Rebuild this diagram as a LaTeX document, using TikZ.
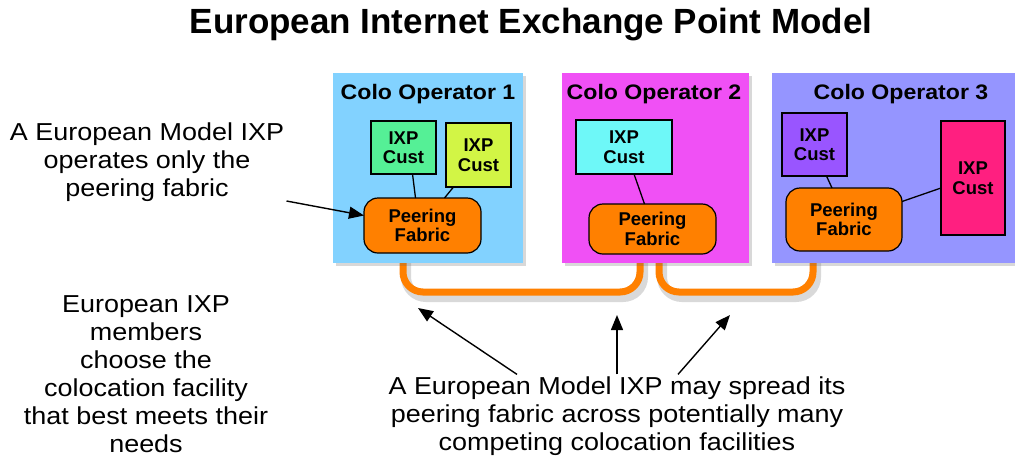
\documentclass[tikz,border=0pt]{standalone}
\usepackage{fontspec}
\setmainfont{Liberation Sans}
\usetikzlibrary{shadows,arrows.meta,backgrounds}
\definecolor{coloA}{HTML}{82D2FF}
\definecolor{coloB}{HTML}{F050F5}
\definecolor{coloC}{HTML}{9595FF}
\definecolor{custA}{HTML}{55F096}
\definecolor{custB}{HTML}{D2F545}
\definecolor{custC}{HTML}{6EF8F8}
\definecolor{custD}{HTML}{9955FF}
\definecolor{custE}{HTML}{FF1F80}
\definecolor{fabricorange}{HTML}{FF8000}
\tikzset{
  colobox/.style={rectangle, inner sep=0pt, outer sep=0pt, anchor=north west,
    drop shadow={shadow xshift=3pt, shadow yshift=-3pt, opacity=.25, fill=black!60}},
  colotitle/.style={font=\fontsize{21}{24}\selectfont\bfseries, xscale=1.1, transform shape, inner sep=0pt},
  custbox/.style={draw=black, line width=1.2pt, rectangle, inner sep=0pt, outer sep=0pt, anchor=north west,
    align=center, font=\fontsize{18.5}{19.5}\selectfont\bfseries},
  fabricbox/.style={custbox, fill=fabricorange, rounded corners=14pt},
  link/.style={draw=black, line width=1.3pt},
  busline/.style={draw=fabricorange, line width=7pt, rounded corners=20pt},
  busshadow/.style={draw=black, opacity=.15, line width=10pt, rounded corners=20pt},
  txt/.style={align=center, font=\fontsize{24.5}{28}\selectfont, xscale=1.1, transform shape, inner sep=2pt},
  arr/.style={draw=black, line width=1.4pt, -{Triangle[length=15pt,width=12pt]}},
}
\begin{document}
\begin{tikzpicture}[x=1pt,y=-1pt]
\useasboundingbox (0,0) rectangle (1015,459);

% title
\node[font=\fontsize{35}{40}\selectfont\bfseries, inner sep=0pt] (title) at (531,25) {European Internet Exchange Point Model};

% colo boxes
\node[colobox, fill=coloA, minimum width=190pt, minimum height=190pt] (c1) at (333,73) {};
\node[colobox, fill=coloB, minimum width=187pt, minimum height=190pt] (c2) at (562,73) {};
\node[colobox, fill=coloC, minimum width=246pt, minimum height=190pt] (c3) at (772,73) {};

\node[colotitle] (t1) at (428,94) {Colo Operator 1};
\node[colotitle] (t2) at (654,94) {Colo Operator 2};
\node[colotitle] (t3) at (901,94) {Colo Operator 3};

% customers
\node[custbox, fill=custA, minimum width=65pt, minimum height=53pt] (k1a) at (371,121) {IXP\\Cust};
\node[custbox, fill=custB, minimum width=65pt, minimum height=64pt] (k1b) at (446,123) {IXP\\Cust};
\node[custbox, fill=custC, minimum width=96pt, minimum height=54pt] (k2) at (576,120) {IXP\\Cust};
\node[custbox, fill=custD, minimum width=65pt, minimum height=63pt] (k3a) at (782,113) {IXP\\Cust};
\node[custbox, fill=custE, minimum width=64pt, minimum height=114pt] (k3b) at (941,121) {IXP\\Cust};

% fabrics
\node[fabricbox, minimum width=117pt, minimum height=55pt] (f1) at (364,198) {Peering\\Fabric};
\node[fabricbox, minimum width=127pt, minimum height=50pt] (f2) at (589,204) {Peering\\Fabric};
\node[fabricbox, minimum width=116pt, minimum height=63pt] (f3) at (786,188) {Peering\\Fabric};

% links
\draw[link] ([xshift=9pt]k1a.south) -- ([xshift=-7pt]f1.north);
\draw[link] ([xshift=-25pt]k1b.south) -- ([xshift=22pt]f1.north);
\draw[link] ([xshift=10pt]k2.south) -- ([xshift=-8pt]f2.north);
\draw[link] ([xshift=12pt]k3a.south) -- ([xshift=-12pt]f3.north);
\draw[link] ([yshift=18pt]f3.east) -- ([yshift=-10pt]k3b.west);

% bus connectors behind the colo boxes
\coordinate (bus) at (0,292);
\coordinate (bshadow) at (0,297);
\begin{scope}[on background layer]
  \fill[white] (0,0) rectangle (1015,459);
  \draw[busshadow] ([xshift=42pt]f1.south west) -- ([xshift=42pt]f1.south west |- bshadow) -- ([xshift=54pt]f2.south west |- bshadow) -- ([xshift=54pt]f2.south west);
  \draw[busshadow] ([xshift=73pt]f2.south west) -- ([xshift=73pt]f2.south west |- bshadow) -- ([xshift=30pt]f3.south west |- bshadow) -- ([xshift=30pt]f3.south west);
  \draw[busline] ([xshift=39pt]f1.south west) -- ([xshift=39pt]f1.south west |- bus) -- ([xshift=51pt]f2.south west |- bus) -- ([xshift=51pt]f2.south west);
  \draw[busline] ([xshift=70pt]f2.south west) -- ([xshift=70pt]f2.south west |- bus) -- ([xshift=27pt]f3.south west |- bus) -- ([xshift=27pt]f3.south west);
\end{scope}

% texts
\node[txt] (lt1) at (147,162) {A European Model IXP\\operates only the\\peering fabric};
\node[txt] (lt2) at (146,374) {European IXP\\members\\choose the\\colocation facility\\that best meets their\\needs};
\node[txt] (bt) at (617,416) {A European Model IXP may spread its\\peering fabric across potentially many\\competing colocation facilities};

% arrows
\coordinate (p1) at (418,308);
\coordinate (p2) at (617,315);
\coordinate (p3) at (730,315);
\draw[arr] ([yshift=-39pt]lt1.east) -- ([yshift=10pt]f1.west);
\draw[arr] ([xshift=-100pt]bt.north) -- (p1);
\draw[arr] (bt.north) -- (p2);
\draw[arr] ([xshift=61pt]bt.north) -- (p3);
\end{tikzpicture}
\end{document}
